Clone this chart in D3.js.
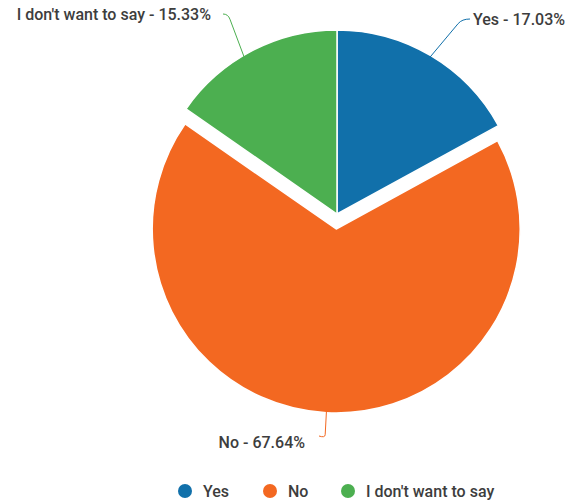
<!DOCTYPE html>
<html><head><meta charset="utf-8">
<script src="https://cdn.jsdelivr.net/npm/d3@7"></script>
<style>
html,body{margin:0;padding:0;background:#fff;}
svg{display:block;font-family:Roboto, "Noto Sans", sans-serif;}
</style></head>
<body>
<svg id="chart" width="568" height="502"></svg>
<script>
const categories = ["Yes", "No", "I don't want to say"];
const values = [17.03, 67.64, 15.33];
const colors = ["#1170aa", "#f36821", "#4caf50"];
const explode = [0, 15, 0];

const svg = d3.select("#chart");
const cx = 337, cy = 214, r = 184;
const pie = d3.pie().sort(null).value(d => d.v);
const data = pie(categories.map((c, i) => ({c, v: values[i], i})));
const arc = d3.arc().innerRadius(0).outerRadius(r);

const g = svg.append("g").attr("transform", `translate(${cx},${cy})`);

// label anchor layout (elbow end point, hook direction, anchor angle shift)
const labelLayout = [
  {ex: 125, ey: -195, hook: 8, shift: 0},
  {ex: -12, ey: 224, hook: -6, shift: 0},
  {ex: -109, ey: -200, hook: -5, shift: -0.053}
];

data.forEach((d, k) => {
  const mid = (d.startAngle + d.endAngle) / 2;
  const ox = Math.sin(mid) * explode[k], oy = -Math.cos(mid) * explode[k];
  const sg = g.append("g").attr("transform", `translate(${ox},${oy})`);
  sg.append("path").attr("d", arc(d)).attr("fill", colors[k])
    .attr("stroke", "#fff").attr("stroke-width", 1.5).attr("stroke-linejoin", "round");
});

// leader lines & labels
data.forEach((d, k) => {
  const mid = (d.startAngle + d.endAngle) / 2;
  const L = labelLayout[k];
  const ang = mid + L.shift;
  const ox = Math.sin(mid) * explode[k], oy = -Math.cos(mid) * explode[k];
  const p0 = [ox + Math.sin(ang) * (r - 2), oy - Math.cos(ang) * (r - 2)];
  const p2 = [L.ex, L.ey];
  const p3 = [L.ex + L.hook, L.ey + (k === 1 ? -2 : 0)];
  const p1 = [p2[0] - (p2[0] - p0[0]) * 0.12, p2[1] - (p2[1] - p0[1]) * 0.12];
  const path = d3.path();
  path.moveTo(p0[0], p0[1]);
  path.lineTo(p1[0], p1[1]);
  path.quadraticCurveTo(p2[0], p2[1], p3[0], p3[1]);
  g.append("path").attr("d", path.toString()).attr("fill", "none")
    .attr("stroke", colors[k]).attr("stroke-width", 1);
  const label = `${categories[k]} - ${values[k].toFixed(2)}%`;
  let tx, ty, anchor;
  if (k === 0) { tx = L.ex + 11; ty = L.ey + 6; anchor = "start"; }
  else if (k === 1) { tx = L.ex - 20; ty = L.ey + 10; anchor = "end"; }
  else { tx = L.ex - 17; ty = L.ey + 6; anchor = "end"; }
  g.append("text").attr("x", tx).attr("y", ty).attr("text-anchor", anchor)
    .attr("font-size", 16).attr("font-weight", 500).attr("fill", "#3d3d3d")
    .text(label);
});

// legend
const legendX = [185, 270, 348];
const lg = svg.append("g");
categories.forEach((c, i) => {
  lg.append("circle").attr("cx", legendX[i]).attr("cy", 491).attr("r", 7).attr("fill", colors[i]);
  lg.append("text").attr("x", legendX[i] + 18).attr("y", 497)
    .attr("font-size", 16).attr("font-weight", 500).attr("fill", "#3d3d3d").text(c);
});
</script>
</body></html>
